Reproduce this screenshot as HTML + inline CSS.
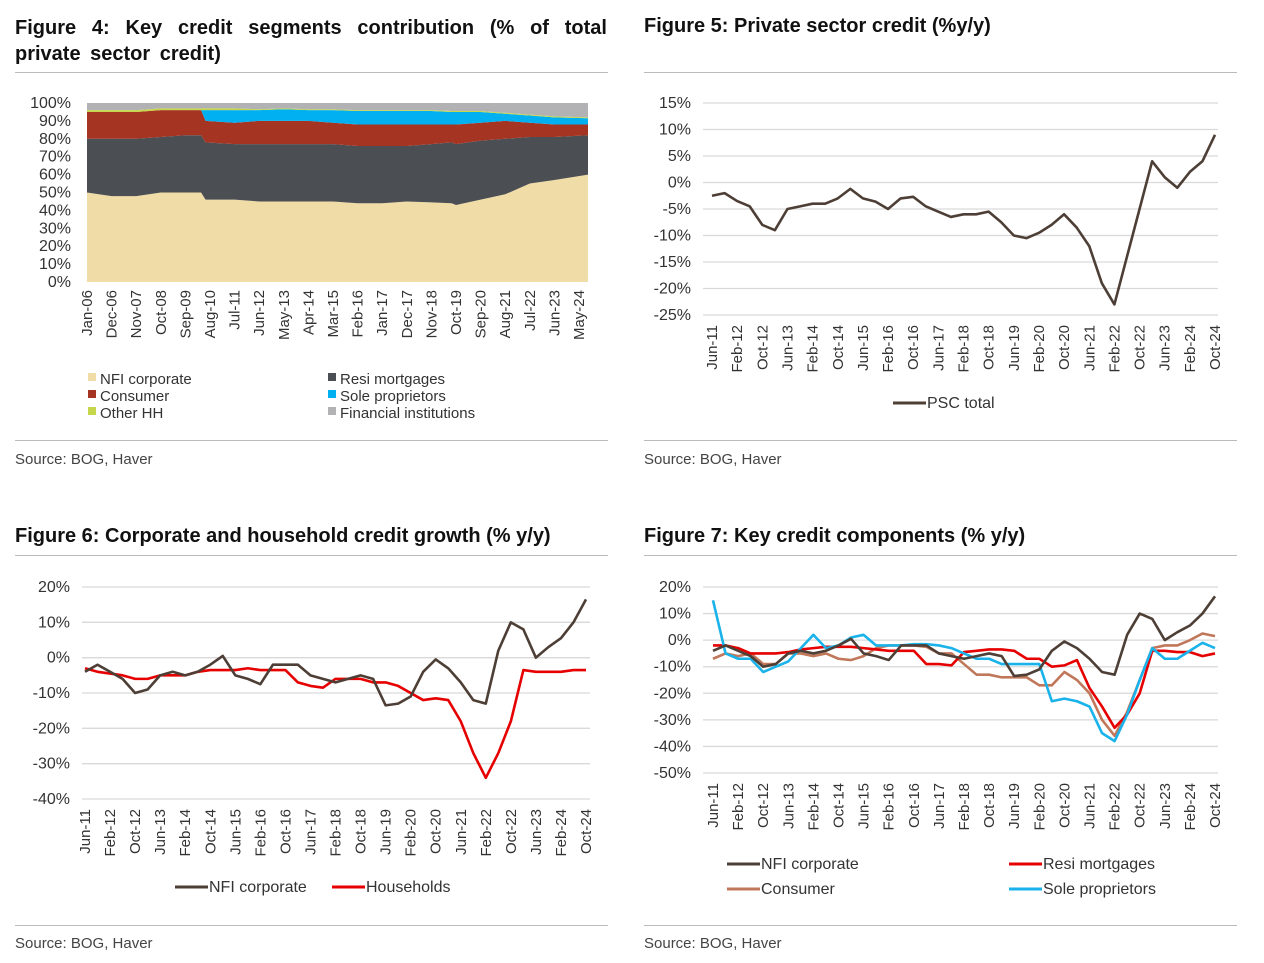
<!DOCTYPE html>
<html><head><meta charset="utf-8">
<style>
body{margin:0;width:1264px;height:963px;background:#fff;font-family:"Liberation Sans",sans-serif;color:#222;position:relative;overflow:hidden}
.t{position:absolute;font-weight:bold;font-size:20px;color:#111}
.hr{position:absolute;height:1px;background:#bbb}
.src{position:absolute;font-size:15px;color:#444}
svg{position:absolute;left:0;top:0}
svg text{font-family:"Liberation Sans",sans-serif;fill:#333}
</style></head><body>
<div class="t" style="left:15px;top:15px;width:592px;text-align:justify;text-align-last:left;line-height:26px;word-spacing:4px">Figure 4: Key credit segments contribution (% of total private sector credit)</div>
<div class="t" style="left:644px;top:15px">Figure 5: Private sector credit (%y/y)</div>
<div class="t" style="left:15px;top:525px">Figure 6: Corporate and household credit growth (% y/y)</div>
<div class="t" style="left:644px;top:525px">Figure 7: Key credit components (% y/y)</div>
<div class="hr" style="left:15px;top:72px;width:593px"></div>
<div class="hr" style="left:644px;top:72px;width:593px"></div>
<div class="hr" style="left:15px;top:440px;width:593px"></div>
<div class="hr" style="left:644px;top:440px;width:593px"></div>
<div class="hr" style="left:15px;top:555px;width:593px"></div>
<div class="hr" style="left:644px;top:555px;width:593px"></div>
<div class="hr" style="left:15px;top:925px;width:593px"></div>
<div class="hr" style="left:644px;top:925px;width:593px"></div>
<div class="src" style="left:15px;top:451px">Source: BOG, Haver</div>
<div class="src" style="left:644px;top:451px">Source: BOG, Haver</div>
<div class="src" style="left:15px;top:935px">Source: BOG, Haver</div>
<div class="src" style="left:644px;top:935px">Source: BOG, Haver</div>
<svg id="s" width="1264" height="963"></svg>
<script>
// ---- Figure 4 data (month index from Jan-06, shares %) ----
const f4Months=[0,11,22,33,44,51,53,66,77,88,99,110,121,132,143,154,163,165,176,187,198,209,224];
const f4Ticks=["Jan-06","Dec-06","Nov-07","Oct-08","Sep-09","Aug-10","Jul-11","Jun-12","May-13","Apr-14","Mar-15","Feb-16","Jan-17","Dec-17","Nov-18","Oct-19","Sep-20","Aug-21","Jul-22","Jun-23","May-24"];
const f4Nfi=[50,48,48,50,50,50,46,46,45,45,45,45,44,44,45,44.5,44,43,46,49,55,57,60];
const f4Resi=[30,32,32,31,32,32,32,31,32,32,32,32,32,32,31,32.5,34,34,33,31,26,24,22];
const f4Cons=[15,15,15,15,14,14,12,12,13,13,13,12,12,12,12,11,10,11,10,10,8,7,6];
const f4Sole=[0,0,0,0,0,0,6,7,6,6.5,6,7,7.5,7.5,7.5,7.5,7,7,6,4,4,4,3.5];
const f4Other=[1,1,1,1,1,1,1,1,0.5,0.5,0.5,0.5,0.5,0.5,0.5,0.5,0.5,0.5,0.5,0.5,0.5,0.5,0.5];
// ---- Line chart data (every 4 months from Jun-11) ----
const lineTicks=["Jun-11","Feb-12","Oct-12","Jun-13","Feb-14","Oct-14","Jun-15","Feb-16","Oct-16","Jun-17","Feb-18","Oct-18","Jun-19","Feb-20","Oct-20","Jun-21","Feb-22","Oct-22","Jun-23","Feb-24","Oct-24"];
const psc=[-2.5,-2,-3.5,-4.5,-8,-9,-5,-4.5,-4,-4,-3,-1.2,-3,-3.6,-5,-3,-2.7,-4.5,-5.5,-6.5,-6,-6,-5.5,-7.5,-10,-10.5,-9.5,-8,-6,-8.5,-12,-19,-23,-14,-5,4,1,-1,2,4,9];
const nfi=[-4,-2,-4,-6,-10,-9,-5,-4,-5,-4,-2,0.5,-5,-6,-7.5,-2,-2,-2,-5,-6,-7,-6,-5,-6,-13.5,-13,-11,-4,-0.5,-3,-7,-12,-13,2,10,8,0,3,5.5,10,16.5];
const hh=[-3,-4,-4.5,-5,-6,-6,-5,-5,-5,-4,-3.5,-3.5,-3.5,-3,-3.5,-3.5,-3.5,-7,-8,-8.5,-6,-6,-6,-7,-7,-8,-10,-12,-11.5,-12,-18,-27,-34,-27,-18,-3.5,-4,-4,-4,-3.5,-3.5];
const resi=[-2,-2,-3,-5,-5,-5,-4.5,-3.5,-3,-2.5,-2.5,-2.5,-3,-3.5,-4,-4,-4,-9,-9,-9.5,-4.5,-4,-3.5,-3.5,-4,-7,-7,-10,-9.5,-7.5,-18,-25,-33,-28,-20,-4,-4,-4.5,-4.5,-6,-5];
const cons=[-7,-5,-6,-5,-9,-9,-5,-5,-6,-5,-7,-7.5,-6,-3,-2,-2,-2,-2.5,-5,-5,-9,-13,-13,-14,-14,-14,-17,-17,-12,-15,-20,-30,-36,-27,-15,-3,-2,-2,0,2.5,1.5];
const sole=[15,-5,-7,-7,-12,-10,-8,-3,2,-3,-2,1,2,-2,-2,-2,-1.5,-1.5,-2,-3,-5,-7,-7,-9,-9,-9,-9,-23,-22,-23,-25,-35,-38,-28,-15,-3,-7,-7,-4,-1,-3];

const S=document.getElementById('s');const NS='http://www.w3.org/2000/svg';
function el(t,a,txt){const e=document.createElementNS(NS,t);for(const k in a)e.setAttribute(k,a[k]);if(txt!==undefined)e.textContent=txt;S.appendChild(e);return e;}

// ---- Figure 4 ----
(function(){
 const x0=87,x1=588,y0=282,y1=103,tMax=224;
 const X=t=>x0+(x1-x0)*t/tMax, Y=v=>y0-(y0-y1)*v/100;
 for(let i=0;i<=10;i++){const t=el('text',{x:71,y:Y(i*10)+5,'text-anchor':'end','font-size':16},(i*10)+'%');
  }
 const series=[f4Nfi,f4Resi,f4Cons,f4Sole,f4Other];
 const cols=['#f0dca7','#4b4e52','#a63423','#00b0f0','#c6d64a','#b2b2b4'];
 const names=['area-nfi-corporate','area-resi-mortgages','area-consumer','area-sole-proprietors','area-other-hh','area-financial-institutions'];
 let base=f4Months.map(()=>0);
 for(let s=0;s<=series.length;s++){
  const top=s<series.length?base.map((b,i)=>b+series[s][i]):base.map(()=>100);
  let d='M'+f4Months.map((m,i)=>X(m)+','+Y(top[i])).join('L');
  for(let i=f4Months.length-1;i>=0;i--)d+='L'+X(f4Months[i])+','+Y(base[i]);
  const p=el('path',{d:d+'Z',fill:cols[s]});
  
  base=top;
 }
 f4Ticks.forEach((l,i)=>{const x=X(i*11);const t=el('text',{transform:`translate(${x+5},290) rotate(-90)`,'text-anchor':'end','font-size':15},l);
  });
 const leg=[['NFI corporate',88,384,0],['Consumer',88,401,2],['Other HH',88,418,4],['Resi mortgages',328,384,1],['Sole proprietors',328,401,3],['Financial institutions',328,418,5]];
 leg.forEach(([n,x,y,c])=>{const r=el('rect',{x:x,y:y-11,width:8,height:8,fill:cols[c]});
  
  const t=el('text',{x:x+12,y:y,'font-size':15},n);
  });
})();

function lineChart(o){
 const n=psc.length-1;
 const X=i=>o.x0+(o.x1-o.x0)*i/n, Y=v=>o.yTop+(o.yBot-o.yTop)*(o.max-v)/(o.max-o.min);
 for(let v=o.max;v>=o.min;v-=o.step){
  const g=el('line',{x1:o.gx0,x2:o.gx1,y1:Y(v),y2:Y(v),stroke:'#d9d9d9','stroke-width':1.3});
  
  const t=el('text',{x:o.gx0-12,y:Y(v)+5,'text-anchor':'end','font-size':16},v+'%');
  
 }
 lineTicks.forEach((l,i)=>{const t=el('text',{transform:`translate(${X(i*2)+5},${o.yBot+10}) rotate(-90)`,'text-anchor':'end','font-size':15},l);
  });
 o.series.forEach(([arr,col,name])=>{
  const p=el('path',{d:'M'+arr.map((v,i)=>X(i)+','+Y(v)).join('L'),fill:'none',stroke:col,'stroke-width':2.6,'stroke-linejoin':'round'});
  
 });
 o.legend.forEach(([n,col,x,y])=>{
  const l=el('line',{x1:x,x2:x+33,y1:y-5,y2:y-5,stroke:col,'stroke-width':3});
  
  const t=el('text',{x:x+34,y:y,'font-size':16},n);
  
 });
}
lineChart({x0:712,x1:1215,gx0:703,gx1:1218,yTop:103,yBot:315,max:15,min:-25,step:5,
 series:[[psc,'#4d3f36','line-psc-total']],legend:[['PSC total','#4d3f36',893,408]]});
lineChart({x0:85,x1:586,gx0:82,gx1:590,yTop:587,yBot:799,max:20,min:-40,step:10,
 series:[[hh,'#e60000','line-households'],[nfi,'#4d3f36','line-nfi-corporate']],
 legend:[['NFI corporate','#4d3f36',175,892],['Households','#e60000',332,892]]});
lineChart({x0:713,x1:1215,gx0:703,gx1:1218,yTop:587,yBot:773,max:20,min:-50,step:10,
 series:[[cons,'#c0775a','line-consumer'],[resi,'#e60000','line-resi-mortgages'],[sole,'#1ab2ea','line-sole-proprietors'],[nfi,'#4d3f36','line-nfi-corporate']],
 legend:[['NFI corporate','#4d3f36',727,869],['Consumer','#c0775a',727,894],['Resi mortgages','#e60000',1009,869],['Sole proprietors','#1ab2ea',1009,894]]});
</script>
</body></html>
